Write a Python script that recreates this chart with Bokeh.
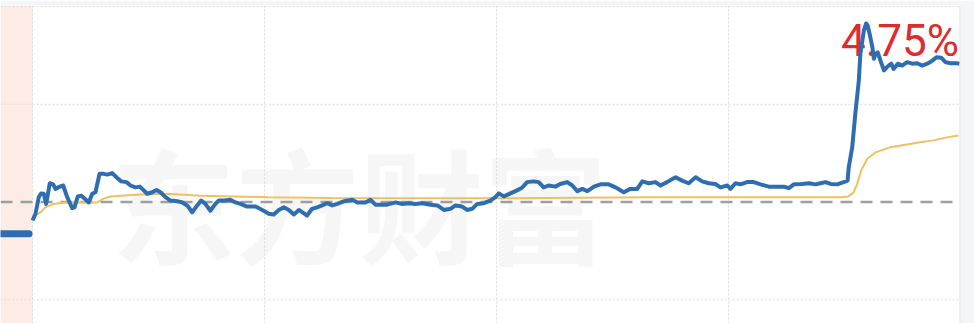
from bokeh.plotting import figure
from bokeh.models import Range1d, Span, BoxAnnotation, Label
from bokeh.embed import file_html
from bokeh.resources import INLINE

# ---- data (minutes after 9:30, % change vs previous close) ----
pre_minutes = [-8.2, -6.0, -4.0, -2.0, -0.9]
pre_pct = [-0.84, -0.84, -0.84, -0.84, -0.84]

minutes = [0, 0.78, 1.63, 2.25, 2.92, 3.54, 4.47, 5.35, 5.95, 7.06, 7.94, 8.97, 10.27, 10.86,
           11.71, 12.59, 13.52, 14.56, 15.44, 16.29, 17.33, 18.44, 19.32, 20.61, 21.91, 22.94,
           24.31, 25.34, 26.64, 27.75, 28.78, 29.66, 30.95, 32.07, 33.10, 34.39, 35.69, 37.42,
           38.71, 40.0, 41.3, 42.6, 43.6, 44.7, 46.0, 47.3, 48.2, 49.5, 51.2, 52.5, 53.8, 55.5,
           57.7, 59.8, 61.1, 62.4, 63.7, 65.0, 66.3, 67.6, 68.9, 70.2, 71.0, 72.3, 73.6, 74.9,
           76.2, 77.5, 78.8, 80.5, 82.7, 84.0, 86.1, 87.4, 88.7, 91.7, 93.9, 95.6, 97.3, 99.0,
           100.8, 102.9, 104.7, 106.4, 108.1, 109.4, 111.1, 112.4, 113.7, 115.0, 116.7, 118.4,
           119.7, 120.6, 121.9, 123.6, 125.3, 126.6, 127.9, 129.6, 130.9, 132.2, 133.5, 135.2,
           136.5, 138.3, 139.6, 140.9, 142.2, 143.5, 145.2, 146.9, 149.0, 150.8, 152.9, 154.6,
           156.4, 157.7, 159.4, 161.1, 162.4, 164.1, 166.3, 168.0, 169.7, 171.5, 173.2, 174.9,
           176.6, 177.9, 179.7, 180.5, 181.8, 183.1, 184.8, 186.5, 188.3, 190.4, 192.6, 194.3,
           195.6, 196.9, 199.0, 200.8, 202.5, 203.8, 205.1, 206.4, 208.1, 209.8, 210.8, 211.1,
           212.0, 212.8, 213.7, 214.1, 215.0, 215.6, 216.0, 216.5, 217.2, 217.6, 218.0, 218.6,
           219.3, 220.2, 221.0, 222.1, 222.7, 223.8, 224.9, 226.2, 227.5, 228.8, 230.1, 231.4,
           232.7, 233.8, 235.0, 236.1, 237.4, 239.1, 239.7]
price_pct = [-0.49, -0.31, 0.13, 0.23, 0.22, -0.05, 0.50, 0.47, 0.35, 0.41, 0.44, 0.13, -0.16, -0.14,
             0.15, 0.17, 0.09, -0.01, 0.22, 0.26, 0.75, 0.75, 0.73, 0.77, 0.64, 0.55,
             0.53, 0.44, 0.39, 0.41, 0.31, 0.22, 0.26, 0.32, 0.26, 0.13, 0.04, 0.02,
             -0.01, -0.09, -0.27, -0.09, 0.04, -0.05, -0.23, -0.05, 0.04, 0.04, 0.06, -0.01, -0.05, -0.12,
             -0.12, -0.23, -0.31, -0.33, -0.21, -0.14, -0.21, -0.33, -0.21, -0.30, -0.36, -0.18, -0.14, -0.09,
             -0.03, -0.09, -0.05, 0.02, 0.06, -0.01, -0.01, 0.06, -0.07, -0.07, -0.01, -0.05, -0.03, -0.05,
             -0.03, -0.07, -0.09, -0.21, -0.18, -0.09, -0.12, -0.21, -0.18, -0.05, -0.03, 0.04,
             0.13, 0.23, 0.15, 0.23, 0.31, 0.38, 0.53, 0.55, 0.53, 0.39, 0.44, 0.41,
             0.48, 0.53, 0.44, 0.29, 0.35, 0.29, 0.41, 0.47, 0.47, 0.39, 0.26, 0.35,
             0.35, 0.55, 0.50, 0.53, 0.44, 0.53, 0.66, 0.57, 0.50, 0.66, 0.55, 0.50,
             0.48, 0.39, 0.44, 0.35, 0.50, 0.47, 0.53, 0.53, 0.47, 0.41, 0.41, 0.41,
             0.37, 0.47, 0.48, 0.50, 0.47, 0.50, 0.53, 0.48, 0.47, 0.53, 0.57, 0.93,
             1.46, 2.35, 3.23, 3.94, 4.56, 4.75, 4.69, 4.47, 4.12, 3.81, 3.94, 3.98,
             3.76, 3.50, 3.59, 3.68, 3.54, 3.68, 3.63, 3.72, 3.68, 3.69, 3.63, 3.68,
             3.76, 3.85, 3.84, 3.72, 3.69, 3.69, 3.68]

avg_minutes = [0.78, 2.07, 3.36, 5.51, 8.09, 11.56, 16.7, 18.4, 20.2, 22.8, 27.9, 34.8, 43.4,
               52.0, 60.7, 77.1, 121.0, 159.8, 209.0, 211.0, 212.3, 213.3, 214.3, 215.9, 218.0,
               221.9, 225.3, 229.6, 233.0, 236.5, 239.5]
avg_pct = [-0.36, -0.27, -0.14, -0.05, -0.01, -0.01, -0.01, 0.09, 0.15, 0.17, 0.20, 0.22, 0.17,
           0.15, 0.13, 0.11, 0.10, 0.13, 0.13, 0.15, 0.25, 0.49, 0.84, 1.15, 1.32,
           1.46, 1.52, 1.59, 1.64, 1.72, 1.77]

time_ticks = [0, 60, 120, 180]
pct_ticks = [-2.6, 2.6, 5.2]
change_label = "4.75%"
watermark = "东方财富"

p = figure(width=974, height=323, output_backend="svg", toolbar_location=None,
           x_range=Range1d(-8.276, 240), y_range=Range1d(-3.23, 5.227),
           x_axis_location=None, y_axis_location=None,
           min_border_left=0, min_border_right=14, min_border_top=5, min_border_bottom=0)
p.xgrid.visible = False
p.ygrid.visible = False
p.outline_line_color = None
p.background_fill_color = "white"
p.border_fill_color = "#f4f5f8"

p.add_layout(BoxAnnotation(left=-8.276, right=0, fill_color="#fdece6", fill_alpha=1,
                           line_color=None, level="underlay"))

p.add_layout(Label(x=84.6, y=0.04, text=watermark, text_font="Noto Sans CJK SC",
                   text_font_style="bold", text_font_size="124px", text_color="#f6f6f6",
                   text_align="center", text_baseline="middle", level="underlay"))

for t in time_ticks:
    p.add_layout(Span(location=t, dimension="height", line_color="#dcdcdc",
                      line_dash="2 2", line_width=1, level="underlay"))
for v in pct_ticks:
    p.add_layout(Span(location=v, dimension="width", line_color="#dcdcdc",
                      line_dash="2 2", line_width=1, level="underlay"))
p.add_layout(Span(location=0, dimension="width", line_color="#9e9e9e",
                  line_dash="12 8", line_width=2.5, level="underlay"))
p.add_layout(Span(location=240, dimension="height", line_color="#e2e2e2",
                  line_width=2, level="underlay"))

p.add_layout(Label(x=239.6, y=4.27, text=change_label, text_font="Roboto",
                   text_font_size="44px", text_color="#df2a2e",
                   text_align="right", text_baseline="alphabetic", level="underlay"))

p.line(avg_minutes, avg_pct, line_color="#f0c060", line_width=2)
p.line(pre_minutes, pre_pct, line_color="#2f6db3", line_width=7, line_cap="round")
p.line(minutes, price_pct, line_color="#2f6db3", line_width=4, line_join="round")

open("out.html", "w").write(file_html(p, INLINE))
